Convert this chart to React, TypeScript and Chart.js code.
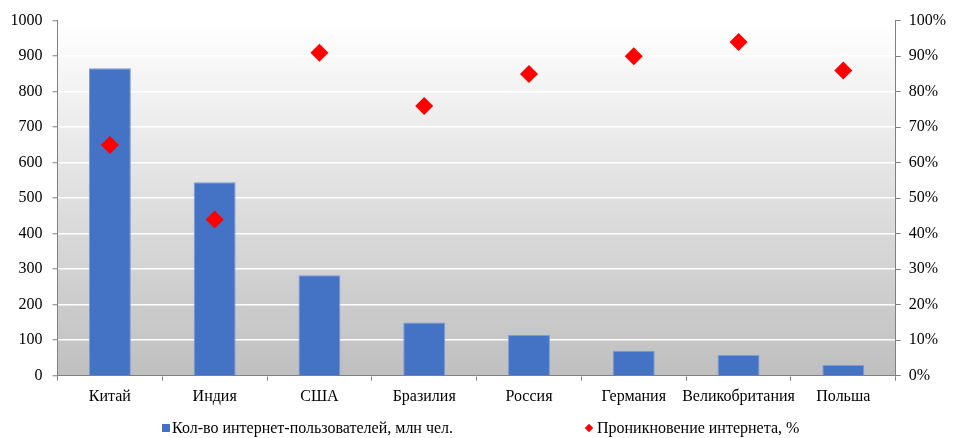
import React, { useEffect, useRef } from "react";
import { Chart, registerables } from "chart.js";

Chart.register(...registerables);

const categories = ["Китай", "Индия", "США", "Бразилия", "Россия", "Германия", "Великобритания", "Польша"];
const users = [866, 545, 283, 150, 115, 70, 58, 30];
const penetration = [65, 44, 91, 76, 85, 90, 94, 86];
const usersLabel = "Кол-во интернет-пользователей, млн чел.";
const penetrationLabel = "Проникновение интернета, %";

const FONT = "'Liberation Serif', 'Times New Roman', serif";
const BLUE = "#4472C4";
const RED = "#FF0000";
const AXIS = "#808080";

const bgPlugin = {
  id: "plotBg",
  beforeDraw(chart: any) {
    const { ctx, chartArea } = chart;
    if (!chartArea) return;
    const g = ctx.createLinearGradient(0, chartArea.top, 0, chartArea.bottom);
    g.addColorStop(0, "#ffffff");
    g.addColorStop(1, "#bfbfbf");
    ctx.save();
    ctx.fillStyle = g;
    ctx.fillRect(chartArea.left, chartArea.top, chartArea.right - chartArea.left, chartArea.bottom - chartArea.top);
    ctx.restore();
  },
};

export default function App() {
  const ref = useRef<HTMLCanvasElement | null>(null);

  useEffect(() => {
    if (!ref.current) return;
    const chart = new Chart(ref.current, {
      type: "bar",
      data: {
        labels: categories,
        datasets: [
          {
            type: "bar",
            label: usersLabel,
            data: users,
            backgroundColor: BLUE,
            borderColor: "#7b9bd8",
            borderWidth: 1,
            barPercentage: 0.4,
            categoryPercentage: 1,
            yAxisID: "y",
            order: 1,
          },
          {
            type: "line",
            label: penetrationLabel,
            data: penetration,
            showLine: false,
            pointStyle: "rectRot",
            pointRadius: 9,
            pointHoverRadius: 9,
            pointBackgroundColor: RED,
            pointBorderColor: RED,
            pointBorderWidth: 0,
            backgroundColor: RED,
            borderColor: RED,
            yAxisID: "y1",
            order: 0,
          } as any,
        ],
      },
      options: {
        responsive: false,
        animation: false,
        layout: { autoPadding: false, padding: { top: 12.7, left: 0, right: 0, bottom: 0 } },
        plugins: {
          legend: { display: false },
          tooltip: { enabled: false },
        },
        scales: {
          x: {
            offset: true,
            grid: {
              offset: true,
              drawOnChartArea: false,
              drawTicks: true,
              tickLength: 5,
              tickColor: AXIS,
              color: AXIS,
            },
            border: { color: AXIS, width: 1 },
            ticks: { color: "#000", font: { family: FONT, size: 16 }, padding: 6, maxRotation: 0, autoSkip: false },
            afterFit(scale: any) {
              scale.height = 54.3;
              scale.paddingLeft = 0;
              scale.paddingRight = 0;
            },
          },
          y: {
            position: "left",
            min: 0,
            max: 1000,
            ticks: {
              stepSize: 100,
              color: "#000",
              font: { family: FONT, size: 16 },
              padding: 10,
              callback: (v: any) => String(v),
            },
            grid: { color: "#ffffff", lineWidth: 1.5, tickColor: AXIS, tickLength: 5, tickWidth: 1 },
            border: { color: AXIS, width: 1 },
            afterFit(scale: any) {
              scale.width = 49.5;
              scale.paddingTop = 0;
              scale.paddingBottom = 0;
            },
          },
          y1: {
            position: "right",
            min: 0,
            max: 100,
            ticks: {
              stepSize: 10,
              color: "#000",
              font: { family: FONT, size: 16 },
              padding: 8,
              callback: (v: any) => v + "%",
            },
            grid: { drawOnChartArea: false, tickColor: AXIS, tickLength: 5, color: AXIS },
            border: { color: AXIS, width: 1 },
            afterFit(scale: any) {
              scale.width = 56.3;
              scale.paddingTop = 0;
              scale.paddingBottom = 0;
            },
          },
        },
      },
      plugins: [bgPlugin],
    });
    return () => chart.destroy();
  }, []);

  const legendText: React.CSSProperties = {
    fontFamily: FONT,
    fontSize: 16,
    color: "#000",
    lineHeight: "20px",
    whiteSpace: "nowrap",
  };

  return (
    <div style={{ position: "relative", width: 944, height: 430 }}>
      <canvas ref={ref} width={944} height={422} style={{ display: "block", width: 944, height: 422 }} />
      <div style={{ position: "absolute", left: 154, top: 410, display: "flex", alignItems: "center" }}>
        <span style={{ display: "inline-block", width: 8, height: 8, background: BLUE, marginRight: 2 }} />
        <span style={legendText}>{usersLabel}</span>
      </div>
      <div style={{ position: "absolute", left: 577, top: 410, display: "flex", alignItems: "center" }}>
        <span
          style={{
            display: "inline-block",
            width: 6,
            height: 6,
            background: RED,
            transform: "rotate(45deg)",
            marginLeft: 1,
            marginRight: 5,
          }}
        />
        <span style={legendText}>{penetrationLabel}</span>
      </div>
    </div>
  );
}
